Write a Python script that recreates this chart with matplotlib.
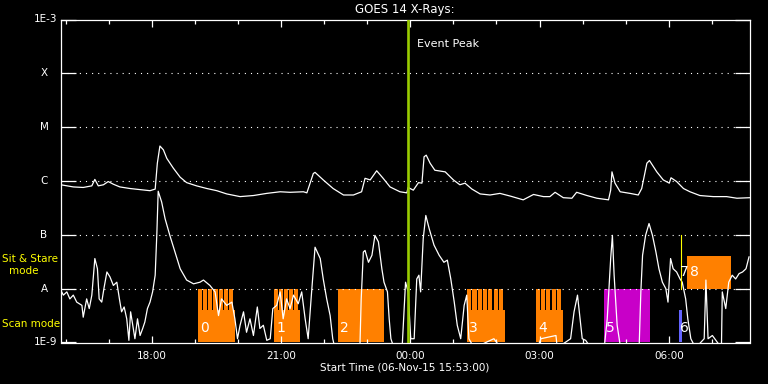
import numpy as np
import matplotlib
matplotlib.use('Agg')
import matplotlib.pyplot as plt
from matplotlib.ticker import FixedLocator, NullLocator, NullFormatter
import matplotlib.transforms as mtransforms

# time in hours from 00:00 06-Nov-15 (values > 24 are on 07-Nov)
t_start = 15.883
t_end = 31.883

# GOES long channel (1-8 A), log10 flux W/m^2
long_t = [15.89, 16.18, 16.41, 16.61, 16.68, 16.76, 16.88, 16.99, 17.11, 17.26,
          17.50, 17.73, 17.96, 18.08, 18.13, 18.19, 18.27, 18.35, 18.50, 18.66,
          18.81, 19.04, 19.28, 19.51, 19.74, 20.05, 20.36, 20.67, 20.98, 21.21,
          21.52, 21.60, 21.75, 21.79, 21.98, 22.21, 22.45, 22.68, 22.87, 22.95,
          23.07, 23.22, 23.37, 23.53, 23.76, 23.92, 23.95, 24.07, 24.19, 24.27,
          24.32, 24.37, 24.46, 24.57, 24.81, 25.00, 25.15, 25.27, 25.43, 25.62,
          25.85, 26.08, 26.32, 26.62, 26.86, 27.09, 27.24, 27.36, 27.55, 27.75,
          27.86, 28.10, 28.33, 28.60, 28.65, 28.68, 28.75, 28.87, 29.10, 29.29,
          29.37, 29.49, 29.55, 29.72, 29.87, 30.01, 30.05, 30.18, 30.34, 30.49,
          30.72, 31.03, 31.34, 31.58, 31.88]
long_lg = [-6.07, -6.11, -6.12, -6.09, -5.97, -6.09, -6.07, -6.01, -6.06, -6.11,
           -6.14, -6.16, -6.18, -6.15, -5.67, -5.35, -5.42, -5.58, -5.76, -5.93,
           -6.03, -6.09, -6.14, -6.18, -6.24, -6.29, -6.27, -6.23, -6.20, -6.21,
           -6.20, -6.22, -5.86, -5.84, -5.98, -6.14, -6.26, -6.26, -6.20, -5.95,
           -5.98, -5.81, -5.95, -6.11, -6.20, -6.22, -6.12, -6.17, -6.03, -6.04,
           -5.55, -5.52, -5.67, -5.80, -5.83, -5.98, -6.07, -6.04, -6.15, -6.24,
           -6.26, -6.23, -6.28, -6.35, -6.25, -6.29, -6.29, -6.21, -6.31, -6.32,
           -6.21, -6.27, -6.32, -6.35, -6.17, -5.83, -6.04, -6.20, -6.23, -6.26,
           -6.14, -5.67, -5.62, -5.83, -5.98, -6.04, -5.94, -6.01, -6.14, -6.20,
           -6.27, -6.29, -6.29, -6.32, -6.31]

# GOES short channel (0.5-4 A), log10 flux W/m^2
short_t = [15.89, 15.95, 16.03, 16.10, 16.18, 16.26, 16.38, 16.41, 16.49, 16.55,
           16.61, 16.68, 16.74, 16.78, 16.84, 16.89, 16.96, 17.03, 17.11, 17.19,
           17.25, 17.30, 17.36, 17.42, 17.47, 17.51, 17.56, 17.61, 17.67, 17.73,
           17.79, 17.84, 17.90, 17.96, 18.02, 18.08, 18.12, 18.15, 18.23, 18.31,
           18.42, 18.54, 18.66, 18.81, 18.97, 19.12, 19.20, 19.35, 19.47, 19.55,
           19.62, 19.74, 19.86, 19.93, 19.99, 20.05, 20.13, 20.20, 20.28, 20.36,
           20.45, 20.51, 20.59, 20.67, 20.75, 20.81, 20.90, 20.98, 21.05, 21.13,
           21.21, 21.29, 21.40, 21.48, 21.56, 21.63, 21.71, 21.79, 21.91, 21.98,
           22.06, 22.14, 22.20, 22.25, 22.83, 22.86, 22.91, 22.95, 23.03, 23.11,
           23.18, 23.26, 23.34, 23.39, 23.47, 23.51, 23.55, 23.62, 23.81, 23.89,
           23.95, 24.01, 24.09, 24.15, 24.20, 24.24, 24.30, 24.36, 24.44, 24.55,
           24.67, 24.78, 24.86, 24.94, 25.02, 25.09, 25.17, 25.25, 25.31, 25.36,
           25.48, 25.94, 26.10, 26.95, 27.03, 27.38, 27.41, 27.72, 27.80, 27.88,
           27.94, 27.99, 28.07, 28.19, 28.50, 28.57, 28.65, 28.69, 28.73, 28.80,
           28.88, 29.31, 29.35, 29.39, 29.46, 29.54, 29.62, 29.70, 29.77, 29.85,
           29.93, 29.98, 30.04, 30.10, 30.18, 30.26, 30.31, 30.39, 30.44, 30.51,
           30.62, 30.82, 30.86, 30.91, 31.01, 31.22, 31.24, 31.32, 31.39, 31.47,
           31.55, 31.63, 31.71, 31.79, 31.86]
short_lg = [-8.03, -8.12, -8.06, -8.19, -8.12, -8.25, -8.31, -8.53, -8.19, -8.37,
            -8.12, -7.44, -7.63, -8.19, -8.25, -8.00, -7.69, -7.78, -7.94, -7.88,
            -8.19, -8.43, -8.34, -8.56, -8.96, -8.43, -8.68, -8.93, -8.56, -8.87,
            -8.74, -8.62, -8.37, -8.25, -8.06, -7.75, -6.95, -6.19, -6.39, -6.70,
            -7.01, -7.32, -7.63, -7.84, -7.91, -7.88, -7.84, -7.94, -8.06, -8.50,
            -8.19, -8.31, -8.25, -8.56, -8.93, -8.68, -8.43, -8.81, -8.56, -8.87,
            -8.34, -8.74, -8.68, -8.96, -8.93, -8.37, -8.31, -8.06, -8.56, -8.19,
            -8.37, -8.12, -8.28, -8.06, -8.56, -8.93, -8.06, -7.23, -7.44, -7.82,
            -8.19, -8.50, -8.93, -9.10, -9.10, -8.21, -7.32, -7.29, -7.51, -7.38,
            -7.01, -7.13, -7.63, -7.88, -8.06, -8.56, -8.93, -9.10, -9.10, -7.88,
            -8.06, -8.93, -8.93, -7.82, -7.75, -8.06, -7.07, -6.64, -6.89, -7.19,
            -7.38, -7.51, -7.47, -7.82, -8.25, -8.68, -8.93, -8.31, -8.12, -8.93,
            -9.10, -8.93, -9.10, -9.10, -8.93, -8.87, -9.10, -8.93, -8.43, -8.12,
            -8.56, -8.93, -8.96, -9.10, -9.10, -8.56, -7.44, -7.01, -7.75, -8.68,
            -9.10, -9.10, -8.06, -7.38, -7.01, -6.79, -7.01, -7.32, -7.63, -7.88,
            -8.00, -8.25, -7.44, -7.63, -7.69, -7.82, -7.88, -8.19, -8.56, -8.93,
            -9.10, -8.93, -7.84, -8.93, -8.87, -9.10, -8.06, -8.37, -7.88, -7.75,
            -7.82, -7.72, -7.69, -7.63, -7.41]

# observation blocks
scan_start = [19.07, 20.84, 22.32, 25.32, 26.92]
scan_end = [19.93, 21.44, 23.39, 26.20, 27.54]
scan_top = [4e-9, 4e-9, 1e-8, 4e-9, 4e-9]
stripe_end = [19.89, 21.39, 23.39, 26.15, 27.49]
n_stripes = [7, 5, 0, 7, 5]
scan_labels = ['0', '1', '2', '3', '4']

mag_start, mag_end = 28.50, 29.56      # block 5
blue_start, blue_end = 30.24, 30.31    # block 6
ss_start, ss_end = 30.42, 31.44        # block 8 (sit & stare)
ss_top = 4.1e-8

event_peak = 23.95
yellow_mark = 30.29

levels = [1e-9, 1e-8, 1e-7, 1e-6, 1e-5, 1e-4, 1e-3]
level_names = ['1E-9', 'A', 'B', 'C', 'M', 'X', '1E-3']

hour_ticks = [18, 21, 24, 27, 30]
hour_labels = ['18:00', '21:00', '00:00', '03:00', '06:00']

orange = '#ff8000'
digit_size = 10

fig = plt.figure(figsize=(7.68, 3.84), dpi=100, facecolor='black')
ax = fig.add_axes([60.5/768, 41.5/384, 689.5/768, 323/384])
ax.set_facecolor('black')
ax.set_yscale('log')
ax.set_xlim(t_start, t_end)
ax.set_ylim(1e-9, 1e-3)

# scan blocks with stripes on top
for i in range(len(scan_start)):
    ax.bar(scan_start[i], scan_top[i] - 1e-9, width=scan_end[i] - scan_start[i],
           bottom=1e-9, align='edge', color=orange, lw=0, zorder=1,
           antialiased=False)
    n = n_stripes[i]
    if n > 0:
        step = (stripe_end[i] - scan_start[i]) / (n - 0.22)
        lefts = [scan_start[i] + k*step for k in range(n)]
        ax.bar(lefts, 1e-8 - scan_top[i], width=0.78*step, bottom=scan_top[i],
               align='edge', color=orange, lw=0, zorder=1, antialiased=False)
    ax.text(scan_start[i] + 0.05, 1.85e-9, scan_labels[i], color='white',
            fontsize=digit_size, ha='left', va='center', zorder=5)

ax.bar(mag_start, 1e-8 - 1e-9, width=mag_end - mag_start, bottom=1e-9,
       align='edge', color='#c800c8', lw=0, zorder=1, antialiased=False)
ax.text(mag_start + 0.05, 1.85e-9, '5', color='white', fontsize=digit_size,
        ha='left', va='center', zorder=5)
ax.bar(blue_start, 4e-9 - 1e-9, width=blue_end - blue_start, bottom=1e-9,
       align='edge', color='#6464ff', lw=0, zorder=1, antialiased=False)
ax.text(blue_start + 0.01, 1.85e-9, '6', color='white', fontsize=digit_size,
        ha='left', va='center', zorder=5)
ax.bar(ss_start, ss_top - 1e-8, width=ss_end - ss_start, bottom=1e-8,
       align='edge', color=orange, lw=0, zorder=1, antialiased=False)
ax.text(yellow_mark - 0.03, 2.0e-8, '7', color='white', fontsize=digit_size,
        ha='left', va='center', zorder=5)
ax.text(ss_start + 0.06, 2.0e-8, '8', color='white', fontsize=digit_size,
        ha='left', va='center', zorder=5)

# flux curves
ax.plot(long_t, 10**np.array(long_lg), color='white', lw=0.9, zorder=3)
ax.plot(short_t, 10**np.array(short_lg), color='white', lw=0.9, zorder=3)

ax.axvline(event_peak, color='#99cc00', lw=1.9, zorder=4)
ax.text(event_peak + 0.2, 10**(-3.45), 'Event Peak', color='white',
        fontsize=8, ha='left', va='center')
ax.plot([yellow_mark, yellow_mark], [1e-8, 1e-7], color='yellow', lw=0.8, zorder=4)

# dotted level lines
for lv in levels[1:-1]:
    ax.axhline(lv, color='white', lw=0.8, ls=(0, (1, 4.5)), zorder=2)

# axes styling
for s in ax.spines.values():
    s.set_color('white')
    s.set_linewidth(0.9)

ax.xaxis.set_major_locator(FixedLocator(hour_ticks))
ax.set_xticklabels(hour_labels)
ax.xaxis.set_minor_locator(FixedLocator(range(16, 32)))
ax.tick_params(axis='x', which='major', direction='in', length=5, width=0.9,
               top=True, bottom=True, color='white', labelcolor='white',
               labelsize=7.5, pad=6)
ax.tick_params(axis='x', which='minor', direction='in', length=3, width=0.9,
               top=True, bottom=True, color='white')

ax.yaxis.set_major_locator(FixedLocator(levels))
ax.yaxis.set_minor_locator(NullLocator())
ax.yaxis.set_major_formatter(NullFormatter())
ax.yaxis.set_minor_formatter(NullFormatter())
ax.tick_params(axis='y', which='major', direction='in', length=10.5, width=0.9,
               left=True, right=True, color='white')

trans = mtransforms.blended_transform_factory(fig.transFigure, ax.transData)
for lv, name in zip(levels, level_names):
    if name.startswith('1E'):
        ax.text(57/768, lv, name, transform=trans, color='white', fontsize=7.5,
                ha='right', va='center')
    else:
        ax.text(44/768, lv, name, transform=trans, color='white', fontsize=7.5,
                ha='center', va='center')

fig.text(2/768, 1 - 259/384, 'Sit & Stare', color='yellow', fontsize=7.5,
         ha='left', va='center')
fig.text(24/768, 1 - 271/384, 'mode', color='yellow', fontsize=7.5,
         ha='center', va='center')
fig.text(2/768, 1 - 324/384, 'Scan mode', color='yellow', fontsize=7.5,
         ha='left', va='center')

fig.text(405/768, 1 - 10/384, 'GOES 14 X-Rays:', color='white', fontsize=8.5,
         ha='center', va='center')
fig.text(405/768, 1 - 368/384, 'Start Time (06-Nov-15 15:53:00)', color='white',
         fontsize=7.5, ha='center', va='center')

fig.savefig('out.png', dpi=100, facecolor='black')
